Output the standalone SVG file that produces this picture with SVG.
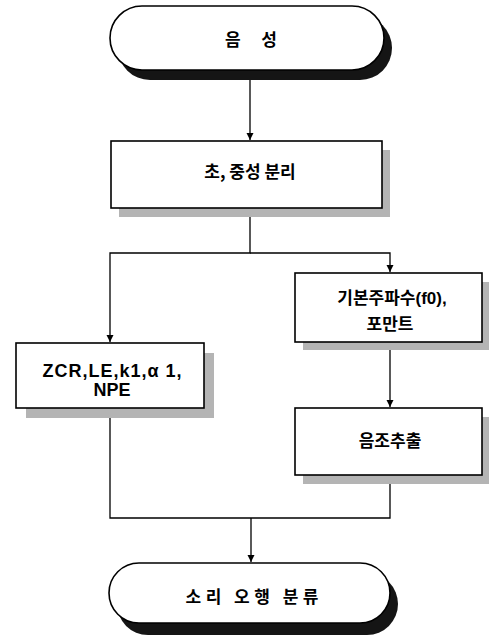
<svg xmlns="http://www.w3.org/2000/svg" width="489" height="643" viewBox="0 0 489 643">
<style>
.t{font-family:"Noto Sans CJK KR","Noto Sans",sans-serif;font-weight:bold;font-size:17px;fill:#000;text-anchor:middle}
.e{font-family:"Liberation Sans",Arial,sans-serif;font-weight:bold;font-size:18px;fill:#000;text-anchor:middle}
.box{fill:#fff;stroke:#000;stroke-width:1.6}
.sh{fill:#b4b4b4}
.tsh{fill:#151515}
.ln{fill:none;stroke:#000;stroke-width:1.3}
</style>
<defs>
<marker id="ar" viewBox="0 0 10 10" refX="10" refY="5" markerWidth="7" markerHeight="8" markerUnits="userSpaceOnUse" orient="auto">
<path d="M0,0 L10,5 L0,10 Z" fill="#000"/>
</marker>
</defs>
<rect width="489" height="643" fill="#fff"/>
<g id="connectors">
<path class="ln" d="M250,79 V140" marker-end="url(#ar)"/>
<path class="ln" d="M250,208 V253 H110 V342" marker-end="url(#ar)"/>
<path class="ln" d="M250,253 H390 V272" marker-end="url(#ar)"/>
<path class="ln" d="M390,342 V407" marker-end="url(#ar)"/>
<path class="ln" d="M110,408 V518 H390 V475"/>
<path class="ln" d="M251,518 V562" marker-end="url(#ar)"/>
</g>
<g id="start">
<rect class="tsh" x="118" y="16" width="274" height="64" rx="32"/>
<rect class="box" x="110" y="6" width="274" height="64" rx="32"/>
<text class="t" x="251" y="46" textLength="52" lengthAdjust="spacing">음 성</text>
</g>
<g id="separate">
<rect class="sh" x="119" y="150" width="271" height="67"/>
<rect class="box" x="111" y="141" width="271" height="67"/>
<text class="t" x="250" y="178">초, 중성 분리</text>
</g>
<g id="zcr">
<rect class="sh" x="26" y="353" width="188" height="65"/>
<rect class="box" x="16" y="343" width="188" height="65"/>
<text class="e" x="112" y="377" textLength="139" lengthAdjust="spacing">ZCR,LE,k1,α  1,</text>
<text class="e" x="112" y="396">NPE</text>
</g>
<g id="f0">
<rect class="sh" x="303" y="282" width="186" height="68"/>
<rect class="box" x="295" y="273" width="187" height="69"/>
<text class="t" x="392" y="304">기본주파수<tspan font-family="Liberation Sans, Arial, sans-serif">(f0),</tspan></text>
<text class="t" x="390" y="330">포만트</text>
</g>
<g id="pitch">
<rect class="sh" x="303" y="417" width="186" height="67"/>
<rect class="box" x="295" y="408" width="187" height="67"/>
<text class="t" x="390" y="447">음조추출</text>
</g>
<g id="end">
<rect class="tsh" x="117" y="573" width="281" height="62" rx="31"/>
<rect class="box" x="109" y="563" width="281" height="60" rx="30"/>
<text class="t" x="252" y="603" textLength="133" lengthAdjust="spacing">소리 오행 분류</text>
</g>
</svg>
